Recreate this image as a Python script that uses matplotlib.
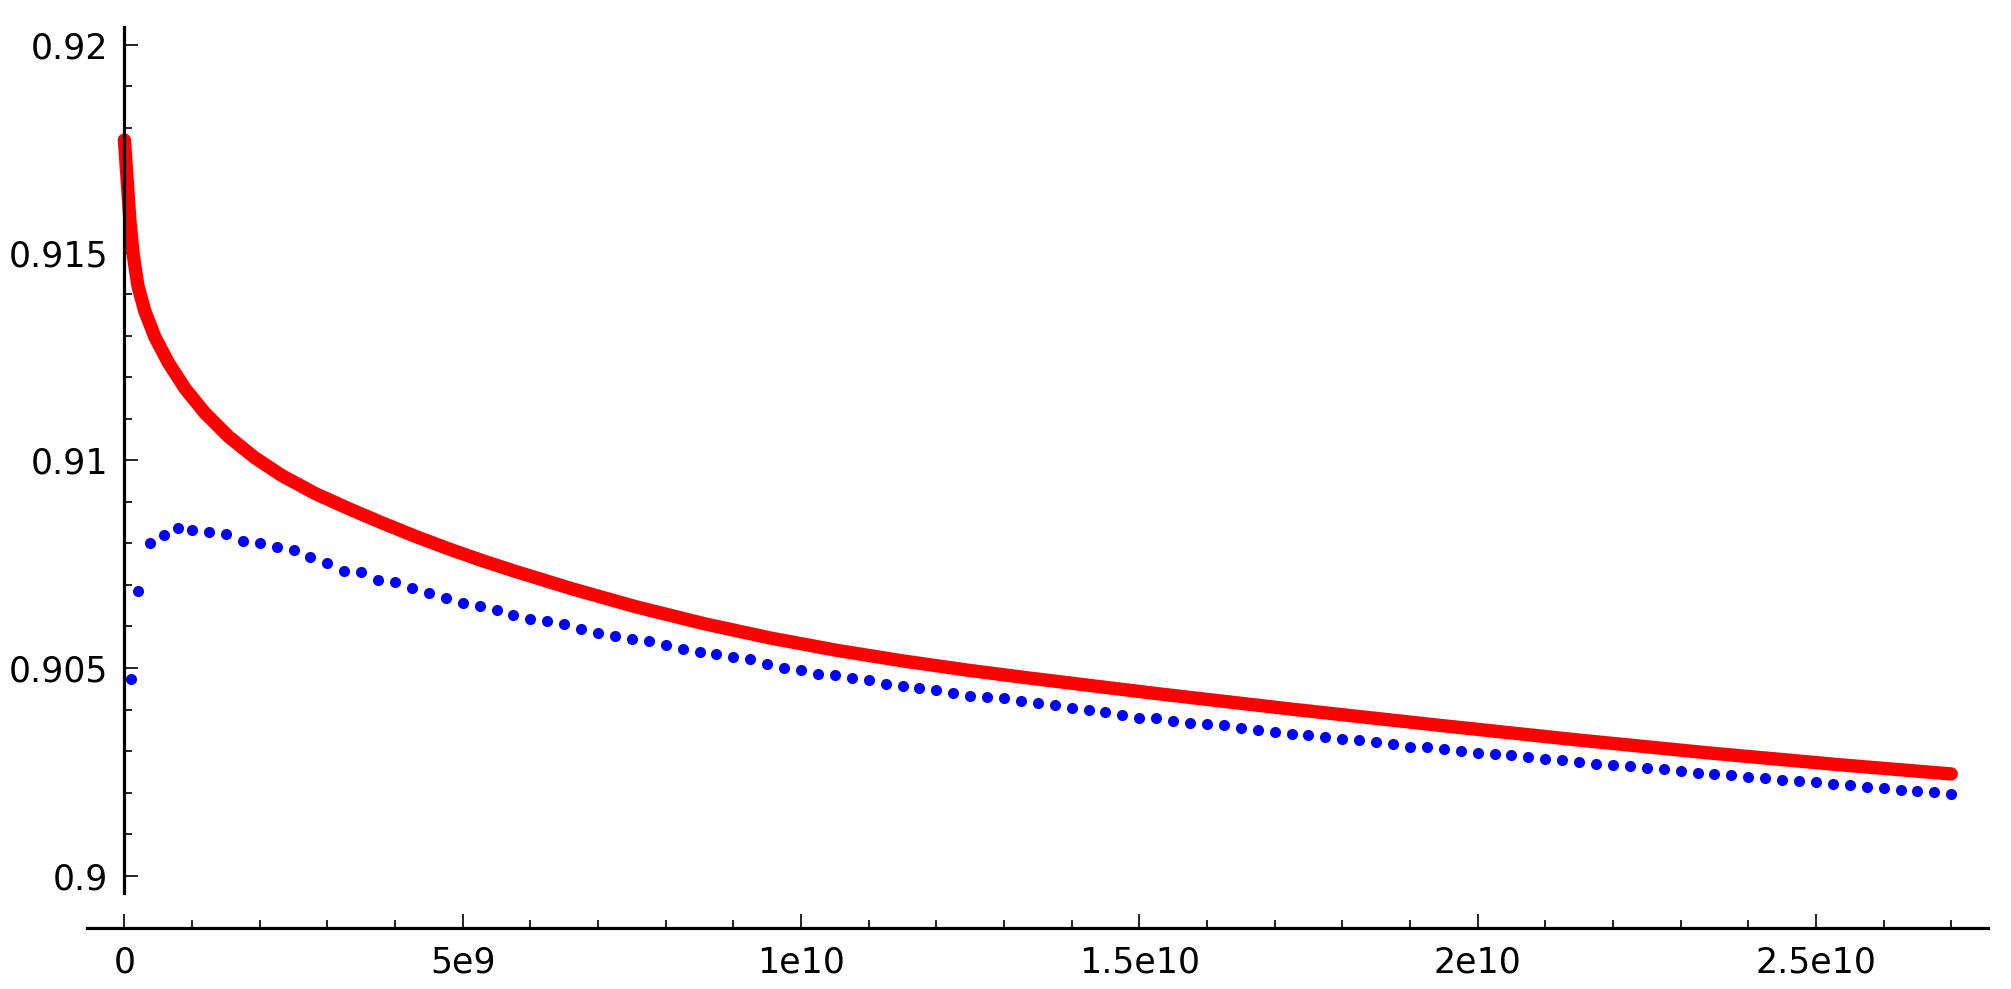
import matplotlib
matplotlib.use("Agg")
import matplotlib.pyplot as plt
import numpy as np
from matplotlib.ticker import MultipleLocator

plt.rcParams['font.family'] = ['DejaVu Sans']

# ---- data (x in units of 1e9) ----
red_x = [0.0, 0.03, 0.08, 0.13, 0.2, 0.3, 0.45, 0.65, 0.9, 1.19, 1.54, 1.93, 2.33,
         2.82, 3.31, 3.80, 4.30, 4.79, 5.28, 5.77, 6.61, 7.57, 8.56, 9.54, 10.53,
         11.51, 12.50, 13.39, 15.28, 17.25, 19.44, 21.41, 23.39, 25.36, 27.0]
red_y = [0.91771, 0.91700, 0.91580, 0.91495, 0.91420, 0.91360, 0.91297, 0.91235,
         0.91172, 0.91114, 0.91057, 0.91006, 0.90963, 0.90920, 0.90884, 0.90850,
         0.90817, 0.90787, 0.90759, 0.90733, 0.90691, 0.90647, 0.90607, 0.905725,
         0.905425, 0.90517, 0.90494, 0.904755, 0.90438, 0.90401, 0.90362, 0.90328,
         0.90296, 0.90267, 0.90245]

blue_x = [0.1, 0.2, 0.38, 0.58, 0.79, 1.0, 1.25,
          1.5, 1.75, 2.0, 2.25, 2.5, 2.75, 3.0, 3.25, 3.5, 3.75, 4.0, 4.25, 4.5, 4.75,
          5.0, 5.25, 5.5, 5.75, 6.0, 6.25, 6.5, 6.75, 7.0, 7.25, 7.5, 7.75, 8.0, 8.25,
          8.5, 8.75, 9.0, 9.25, 9.5, 9.75, 10.0, 10.25, 10.5, 10.75, 11.0, 11.25, 11.5,
          11.75, 12.0, 12.25, 12.5, 12.75, 13.0, 13.25, 13.5, 13.75, 14.0, 14.25, 14.5,
          14.75, 15.0, 15.25, 15.5, 15.75, 16.0, 16.25, 16.5, 16.75, 17.0, 17.25, 17.5,
          17.75, 18.0, 18.25, 18.5, 18.75, 19.0, 19.25, 19.5, 19.75, 20.0, 20.25, 20.5,
          20.75, 21.0, 21.25, 21.5, 21.75, 22.0, 22.25, 22.5, 22.75, 23.0, 23.25, 23.5,
          23.75, 24.0, 24.25, 24.5, 24.75, 25.0, 25.25, 25.5, 25.75, 26.0, 26.25, 26.5,
          26.75, 27.0]
blue_y = [0.904726, 0.906863, 0.908012, 0.908209, 0.908365, 0.908329, 0.908274,
          0.908226, 0.908050, 0.908007, 0.907923, 0.907843, 0.907665, 0.907537,
          0.907345, 0.907318, 0.907116, 0.907061, 0.906923, 0.906801, 0.906692,
          0.906577, 0.906495, 0.906401, 0.906286, 0.906187, 0.906134, 0.906052,
          0.905939, 0.905850, 0.905763, 0.905705, 0.905650, 0.905546, 0.905450,
          0.905392, 0.905330, 0.905272, 0.905209, 0.905096, 0.905007, 0.904959,
          0.904863, 0.904824, 0.904766, 0.904711, 0.904622, 0.904559, 0.904511,
          0.904470, 0.904398, 0.904333, 0.904295, 0.904278, 0.904198,
          0.904165, 0.904102, 0.904044, 0.903982, 0.903941, 0.903869, 0.903804,
          0.903796, 0.903731, 0.903683, 0.903652, 0.903621, 0.903556, 0.903507,
          0.903467, 0.903411, 0.903387, 0.903346, 0.903291, 0.903267, 0.903211,
          0.903178, 0.903091, 0.903091, 0.903043, 0.902995, 0.902947,
          0.902922, 0.902898, 0.902865, 0.902817, 0.902785, 0.902737, 0.902689,
          0.902658, 0.902634, 0.902593, 0.902561, 0.902520, 0.902480, 0.902441,
          0.902417, 0.902383, 0.902345, 0.902304, 0.902287, 0.902248, 0.902200,
          0.902176, 0.902135, 0.902118, 0.902070, 0.902039, 0.902015, 0.901967]

x_ticks = [0, 5e9, 1e10, 1.5e10, 2e10, 2.5e10]
x_tick_labels = ["0", "5e9", "1e10", "1.5e10", "2e10", "2.5e10"]
y_ticks = [0.9, 0.905, 0.91, 0.915, 0.92]
y_tick_labels = ["0.9", "0.905", "0.91", "0.915", "0.92"]

SCALE = 1e9

fig = plt.figure(figsize=(20.11, 9.89), dpi=100)
W, H = 2011, 989
ax = fig.add_axes([87 / W, (H - 893) / H, (1988 - 87) / W, (893 - 27) / H])

ax.plot(np.array(red_x) * SCALE, red_y, color="#ff0000", lw=9.6,
        solid_capstyle="round", solid_joinstyle="round", zorder=2)
ax.plot(np.array(blue_x) * SCALE, blue_y, "o", color="#0000ff", ms=8.0, mew=0,
        zorder=3)

ax.set_xlim(-0.5528e9, 27.543e9)
ax.set_ylim(0.899584, 0.920431)

for s in ("top", "right"):
    ax.spines[s].set_visible(False)
ax.spines["left"].set_position(("data", 0))
ax.spines["bottom"].set_position(("outward", 25.2))
for s in ("left", "bottom"):
    ax.spines[s].set_linewidth(2.3)
    ax.spines[s].set_zorder(4)

ax.set_xticks(x_ticks, x_tick_labels)
ax.set_yticks(y_ticks, y_tick_labels)
ax.xaxis.set_minor_locator(MultipleLocator(1e9))
ax.yaxis.set_minor_locator(MultipleLocator(0.001))

ax.tick_params(which="major", direction="in", length=10, width=1.2,
               labelsize=25, color="black")
ax.tick_params(which="minor", direction="in", length=5.5, width=1.2)
ax.tick_params(axis="y", which="major", pad=11.5)
ax.tick_params(axis="x", which="major", pad=12.7)

fig.savefig("out.png", dpi=100)
